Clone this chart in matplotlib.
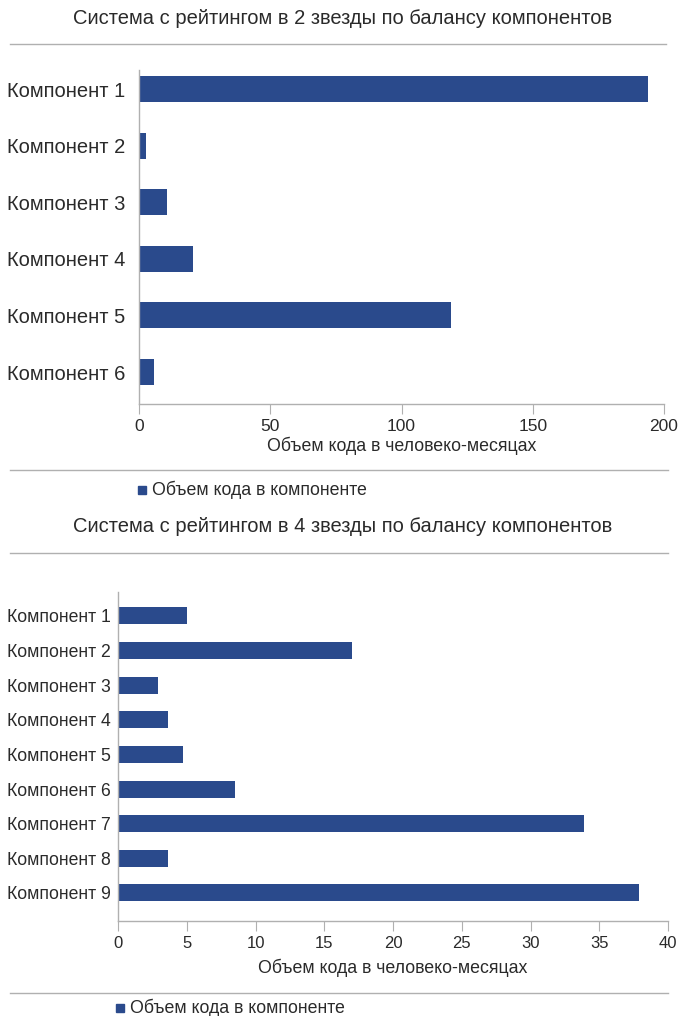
import matplotlib
matplotlib.use('Agg')
import matplotlib.pyplot as plt
from matplotlib.lines import Line2D
from matplotlib.patches import Rectangle

plt.rcParams['font.family'] = ['Liberation Sans', 'DejaVu Sans']

W, H = 680, 1016

# data
top_title = 'Система с рейтингом в 2 звезды по балансу компонентов'
top_labels = ['Компонент 1', 'Компонент 2', 'Компонент 3', 'Компонент 4', 'Компонент 5', 'Компонент 6']
top_values = [194, 2.7, 10.7, 20.6, 118.9, 5.7]
top_ticks = [0, 50, 100, 150, 200]

bot_title = 'Система с рейтингом в 4 звезды по балансу компонентов'
bot_labels = ['Компонент 1', 'Компонент 2', 'Компонент 3', 'Компонент 4', 'Компонент 5',
              'Компонент 6', 'Компонент 7', 'Компонент 8', 'Компонент 9']
bot_values = [5.0, 17.0, 2.9, 3.6, 4.7, 8.5, 33.9, 3.6, 37.9]
bot_ticks = [0, 5, 10, 15, 20, 25, 30, 35, 40]

xlabel = 'Объем кода в человеко-месяцах'
legend_text = 'Объем кода в компоненте'

BAR = '#2a4a8c'
TXT = '#2a2a2a'
GRID = '#b0b0b0'

fig = plt.figure(figsize=(W / 100, H / 100), dpi=100)
fig.patch.set_facecolor('white')


def px_ax(x0, y0, x1, y1):
    # pixel box (top-left origin) -> figure axes
    return fig.add_axes([x0 / W, 1 - y1 / H, (x1 - x0) / W, (y1 - y0) / H])


def hline(y, x0, x1):
    fig.add_artist(Line2D([x0 / W, x1 / W], [1 - y / H, 1 - y / H],
                          color=GRID, lw=1.0, transform=fig.transFigure))


def legend_at(x, y, fs):
    fig.add_artist(Rectangle((x / W, 1 - (y + 4) / H), 8 / W, 8 / H,
                             color=BAR, transform=fig.transFigure))
    fig.text((x + 14) / W, 1 - y / H, legend_text, fontsize=fs, color=TXT,
             va='center', ha='left')


def bar_panel(ax, labels, values, ticks, pad_top, pad_bot, height,
              ylab_fs, ylab_pad, tick_fs, xlab_pad):
    pos = list(range(len(labels)))
    ax.barh(pos, values, height=height, color=BAR)
    ax.set_xlim(ticks[0], ticks[-1])
    ax.set_ylim(len(labels) - 1 + pad_bot, -pad_top)
    ax.set_yticks(pos)
    ax.set_yticklabels(labels, fontsize=ylab_fs, color=TXT)
    ax.set_xticks(ticks)
    ax.set_xticklabels([str(t) for t in ticks], fontsize=tick_fs, color=TXT)
    ax.tick_params(axis='y', length=0, pad=ylab_pad)
    ax.tick_params(axis='x', length=7, color=GRID, pad=4, direction='out')
    for s in ['top', 'right']:
        ax.spines[s].set_visible(False)
    for s in ['left', 'bottom']:
        ax.spines[s].set_color(GRID)
        ax.spines[s].set_linewidth(1.0)
    ax.set_facecolor('none')
    ax.set_xlabel(xlabel, fontsize=12.8, color=TXT, labelpad=xlab_pad)


# top panel
fig.text(343 / W, 1 - 18 / H, top_title, fontsize=14.5, color=TXT, ha='center', va='center')
hline(44, 10, 666)
ax1 = px_ax(139, 70, 664, 404)
bar_panel(ax1, top_labels, top_values, top_ticks, 0.336, 0.565, 0.46, 14.5, 10, 12.5, 2)
hline(470, 10, 668)
legend_at(138, 490, 12.8)

# bottom panel
fig.text(343 / W, 1 - 527 / H, bot_title, fontsize=14.5, color=TXT, ha='center', va='center')
hline(553, 10, 668)
ax2 = px_ax(118, 592, 668, 921)
bar_panel(ax2, bot_labels, bot_values, bot_ticks, 0.69, 0.81, 0.49, 12.7, 5, 12, 5)
hline(993, 10, 668)
legend_at(116, 1008, 12.8)

fig.savefig('out.png', dpi=100, facecolor='white')
